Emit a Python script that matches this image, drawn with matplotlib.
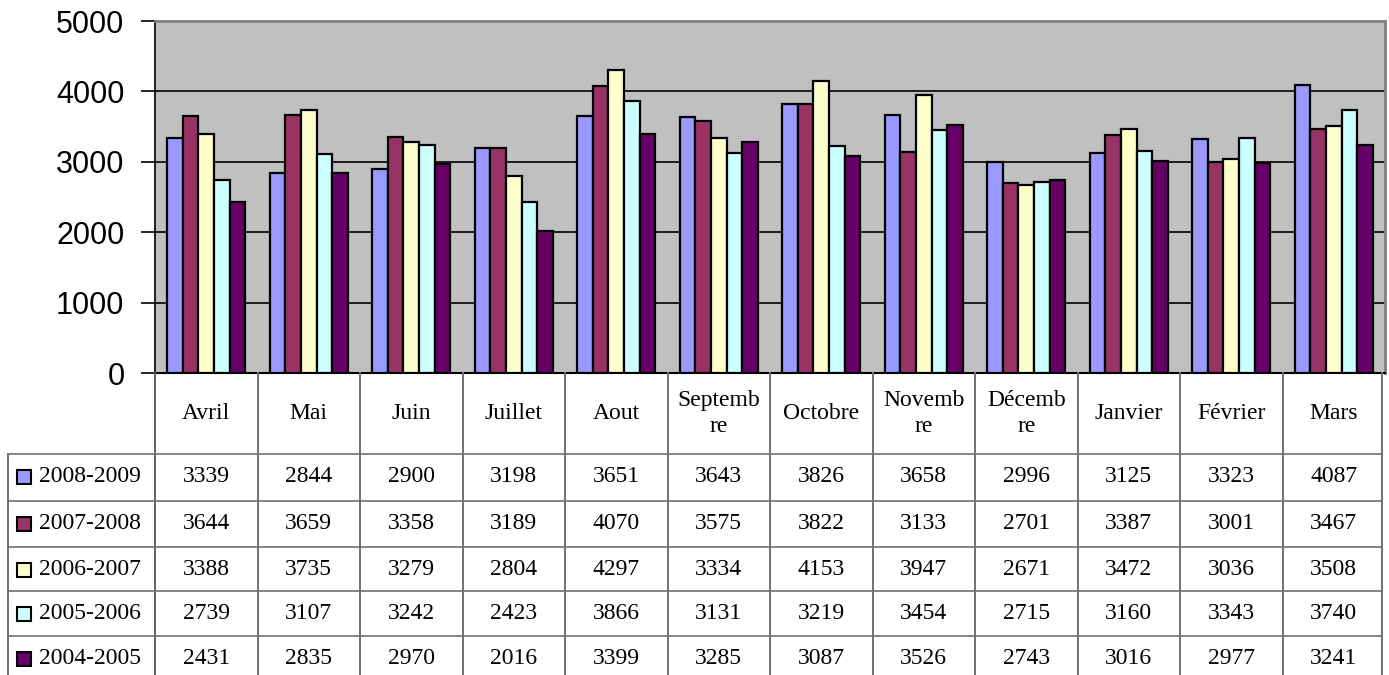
import matplotlib
matplotlib.use("Agg")
import matplotlib.pyplot as plt
import numpy as np
from matplotlib.transforms import blended_transform_factory
from matplotlib.patches import Rectangle
from matplotlib.lines import Line2D

months = ["Avril", "Mai", "Juin", "Juillet", "Aout", "Septemb\nre", "Octobre",
          "Novemb\nre", "Décemb\nre", "Janvier", "Février", "Mars"]
series_names = ["2008-2009", "2007-2008", "2006-2007", "2005-2006", "2004-2005"]
s2008_2009 = [3339, 2844, 2900, 3198, 3651, 3643, 3826, 3658, 2996, 3125, 3323, 4087]
s2007_2008 = [3644, 3659, 3358, 3189, 4070, 3575, 3822, 3133, 2701, 3387, 3001, 3467]
s2006_2007 = [3388, 3735, 3279, 2804, 4297, 3334, 4153, 3947, 2671, 3472, 3036, 3508]
s2005_2006 = [2739, 3107, 3242, 2423, 3866, 3131, 3219, 3454, 2715, 3160, 3343, 3740]
s2004_2005 = [2431, 2835, 2970, 2016, 3399, 3285, 3087, 3526, 2743, 3016, 2977, 3241]
series = [s2008_2009, s2007_2008, s2006_2007, s2005_2006, s2004_2005]
colors = ["#9999FF", "#993366", "#FFFFCC", "#CCFFFF", "#660066"]
yticks = [0, 1000, 2000, 3000, 4000, 5000]

W, H = 1389, 675
fig = plt.figure(figsize=(W / 100, H / 100), dpi=100)
fig.patch.set_facecolor("white")

# pixel layout
L, R, T, B = 155, 1385, 21, 373
ax = fig.add_axes([L / W, 1 - B / H, (R - L) / W, (B - T) / H])
ax.set_facecolor("#C0C0C0")
n = len(months)
x = np.arange(n)
bw = 0.152
for k, (vals, c) in enumerate(zip(series, colors)):
    ax.bar(x + (k - 2) * bw, vals, width=bw, color=c, edgecolor="black",
           linewidth=1.6, zorder=3)
ax.set_xlim(-0.5, n - 0.5)
ax.set_ylim(0, 5000)
ax.set_yticks(yticks)
ax.set_yticklabels([str(v) for v in yticks], fontfamily="Liberation Sans", fontsize=22)
ax.tick_params(axis="y", direction="out", length=10, width=1.2, pad=12, colors="black")
ax.set_xticks([])
ax.grid(axis="y", color="black", linewidth=1.2, zorder=1)
for side in ["top", "right"]:
    ax.spines[side].set_color("#808080")
    ax.spines[side].set_linewidth(2)
ax.spines["left"].set_color("black")
ax.spines["left"].set_linewidth(1.2)
ax.spines["bottom"].set_color("black")
ax.spines["bottom"].set_linewidth(1.5)

# Data table
tr = blended_transform_factory(ax.transData, fig.transFigure)
def fy(py):
    return 1 - py / H
def fx(px):
    return px / W

line_col = "#707070"
row_tops = [454, 501, 547, 591, 636]
hdr_top, hdr_bot = 373, 454
tbl_left, tbl_right = 8, 1382
fontkw = dict(fontfamily="Liberation Serif", fontsize=17, color="black")

# vertical lines at category boundaries
for b in np.arange(-0.5, n + 0.5, 1.0):
    if b == n - 0.5:
        xx = fx(tbl_right)
        fig.add_artist(Line2D([xx, xx], [fy(hdr_top), fy(H)], color=line_col, lw=1.4))
    else:
        fig.add_artist(Line2D([b, b], [fy(hdr_top), fy(H)], transform=tr,
                              color=line_col if b != -0.5 else "#606060", lw=1.4))
# left border of legend column
fig.add_artist(Line2D([fx(tbl_left)] * 2, [fy(hdr_bot), fy(H)], color=line_col, lw=1.4))
# horizontal lines
for rt in row_tops:
    fig.add_artist(Line2D([fx(tbl_left), fx(tbl_right)], [fy(rt)] * 2, color=line_col, lw=1.2))

# header labels
for i, m in enumerate(months):
    fig.text(i, fy((hdr_top + hdr_bot) / 2), m, transform=tr, ha="center",
             va="center", linespacing=1.35, **fontkw)

# rows
row_h = 45
for k, (name, vals, c) in enumerate(zip(series_names, series, colors)):
    yc = row_tops[k] + row_h / 2
    for i, v in enumerate(vals):
        fig.text(i, fy(yc), str(v), transform=tr, ha="center", va="center", **fontkw)
    sq = 14
    fig.add_artist(Rectangle((fx(17), fy(yc + sq / 2)), sq / W, sq / H,
                             facecolor=c, edgecolor="black", lw=1.5))
    fig.text(fx(39), fy(yc), name, ha="left", va="center", **fontkw)

fig.savefig("out.png", dpi=100, facecolor="white")
